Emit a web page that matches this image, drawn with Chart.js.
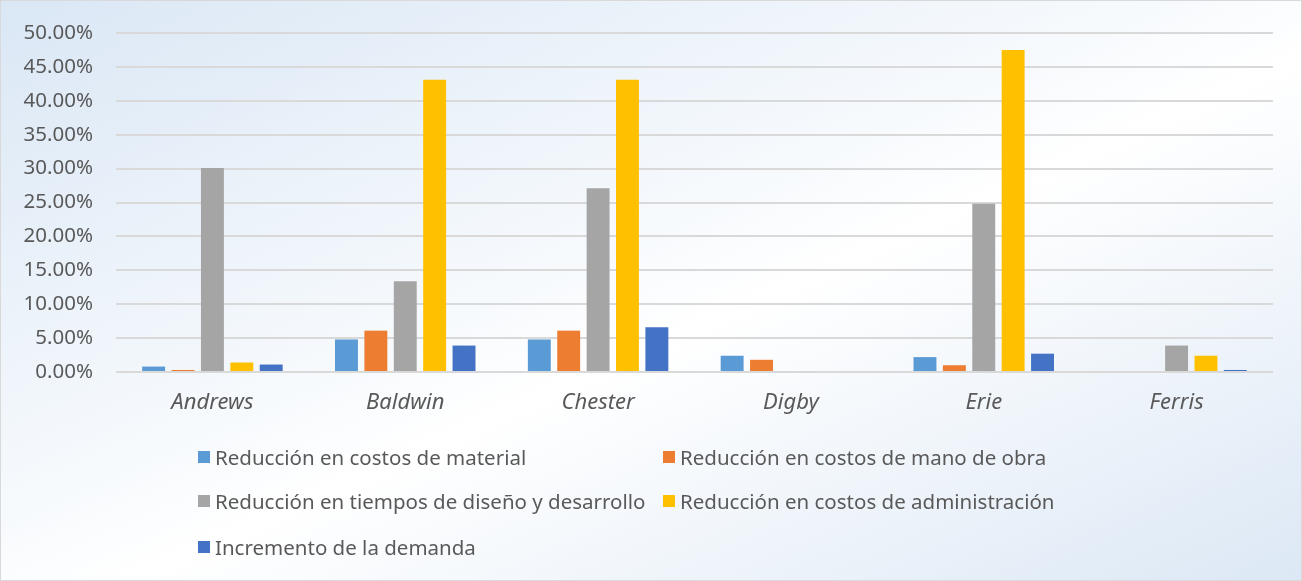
<!DOCTYPE html>
<html>
<head>
<meta charset="utf-8">
<script src="https://cdn.jsdelivr.net/npm/chart.js@4.4.1/dist/chart.umd.min.js"></script>
<style>
    html, body { margin: 0; padding: 0; }
    #wrap {
        position: relative;
        width: 1300px;
        height: 579px;
        border: 1px solid #d9d9d9;
        background: linear-gradient(to bottom right, #dae7f5 0%, #f7fafd 45%, #ffffff 55%, #dce8f5 100%);
        font-family: 'Noto Sans', sans-serif;
    }
    #chartBox { position: absolute; left: 0; top: 0; width: 1300px; height: 430px; }
    #legend { position: absolute; left: 0; top: 0; width: 1300px; height: 579px; pointer-events: none; }
    .item { position: absolute; display: flex; align-items: center; color: #595959; font-size: 20.5px; line-height: 28px; white-space: nowrap; }
    .swatch { width: 12px; height: 12px; margin-right: 5px; }
</style>
</head>
<body>
<div id="wrap">
    <div id="chartBox"><canvas id="barChart"></canvas></div>
    <div id="legend"></div>
</div>
<script>
// Data (percent)
const companies = ['Andrews', 'Baldwin', 'Chester', 'Digby', 'Erie', 'Ferris'];
const seriesNames = [
    'Reducción en costos de material',
    'Reducción en costos de mano de obra',
    'Reducción en tiempos de diseño y desarrollo',
    'Reducción en costos de administración',
    'Incremento de la demanda'
];
const material = [0.8, 4.8, 4.8, 2.4, 2.2, 0];
const manoObra = [0.3, 6.1, 6.1, 1.8, 1.0, 0];
const disenoDesarrollo = [30.1, 13.4, 27.1, 0, 24.8, 3.9];
const administracion = [1.4, 43.1, 43.1, 0, 47.5, 2.4];
const demanda = [1.1, 3.9, 6.6, 0, 2.7, 0.3];
const yTicks = [0, 5, 10, 15, 20, 25, 30, 35, 40, 45, 50];

const colors = ['#5b9bd5', '#ed7d31', '#a5a5a5', '#ffc000', '#4472c4'];
const seriesData = [material, manoObra, disenoDesarrollo, administracion, demanda];

const ctx = document.getElementById('barChart').getContext('2d');

new Chart(ctx, {
    type: 'bar',
    data: {
        labels: companies,
        datasets: seriesNames.map((name, i) => ({
            label: name,
            data: seriesData[i],
            backgroundColor: colors[i],
            borderWidth: 0,
            categoryPercentage: 0.762,
            barPercentage: 0.78
        }))
    },
    options: {
        responsive: true,
        maintainAspectRatio: false,
        animation: false,
        layout: { padding: { top: 32, right: 28, bottom: 0, left: 0 } },
        plugins: {
            legend: { display: false },
            tooltip: { enabled: false }
        },
        scales: {
            x: {
                grid: { display: false, drawTicks: false },
                border: { display: false },
                ticks: {
                    color: '#595959',
                    padding: 18,
                    font: { family: 'Noto Sans', size: 22, style: 'italic' }
                },
                afterFit: scale => { scale.height = 59; }
            },
            y: {
                min: 0,
                max: 50,
                afterBuildTicks: scale => { scale.ticks = yTicks.map(v => ({ value: v })); },
                grid: { color: '#d9d9d9', lineWidth: 2, drawTicks: false },
                border: { display: false },
                ticks: {
                    color: '#595959',
                    padding: 23,
                    font: { family: 'Noto Sans', size: 20.5 },
                    callback: v => v.toFixed(2) + '%'
                },
                afterFit: scale => {
                    scale.width = 115;
                    // tick padding would otherwise push the plot top down
                    scale.paddingTop = 0;
                    scale.paddingBottom = 0;
                }
            }
        }
    }
});

// Legend in two columns, like the original
const legendPos = [[197, 456], [662, 456], [197, 500], [662, 500], [197, 546]];
const legendEl = document.getElementById('legend');
seriesNames.forEach((name, i) => {
    const item = document.createElement('div');
    item.className = 'item';
    item.style.left = legendPos[i][0] + 'px';
    item.style.top = (legendPos[i][1] - 14) + 'px';
    item.innerHTML = `<span class="swatch" style="background:${colors[i]}"></span><span>${name}</span>`;
    legendEl.appendChild(item);
});
</script>
</body>
</html>
